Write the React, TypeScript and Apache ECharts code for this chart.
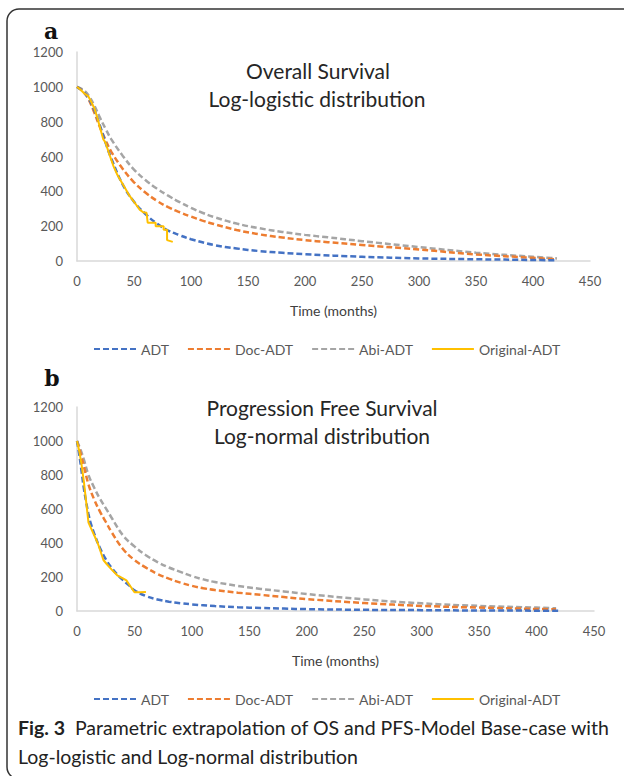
import React, { useEffect, useRef } from "react";
import * as echarts from "echarts";

// ---------- Data ----------
const seriesNames = ["ADT", "Doc-ADT", "Abi-ADT", "Original-ADT"];
const xTicks = [0, 50, 100, 150, 200, 250, 300, 350, 400, 450];
const yTicks = [0, 200, 400, 600, 800, 1000, 1200];

// Panel a: Overall Survival, log-logistic
const osAdt: [number, number][] = [
  [0, 1000], [5, 975], [10, 935], [15, 870], [20, 780], [25, 680], [30, 590], [40, 440],
  [50, 340], [60, 270], [70, 215], [80, 175], [90, 148], [100, 125], [120, 92], [140, 72],
  [160, 57], [180, 47], [200, 39], [250, 24], [300, 15], [350, 10], [400, 6], [421, 4],
];
const osDoc: [number, number][] = [
  [0, 1000], [5, 975], [10, 930], [15, 855], [20, 770], [25, 695], [30, 628], [40, 530],
  [50, 452], [60, 393], [70, 346], [80, 309], [90, 280], [100, 255], [110, 232], [120, 212],
  [140, 178], [160, 153], [180, 135], [200, 120], [220, 108], [250, 92], [300, 66], [350, 38],
  [400, 18], [421, 9],
];
const osAbi: [number, number][] = [
  [0, 1000], [5, 985], [10, 952], [15, 895], [20, 825], [25, 760], [30, 700], [40, 605],
  [50, 525], [60, 465], [70, 416], [80, 375], [90, 338], [100, 305], [110, 277], [120, 253],
  [140, 215], [160, 188], [180, 167], [200, 150], [220, 136], [250, 114], [300, 80], [350, 48],
  [400, 24], [421, 15],
];
const osOriginal: [number, number][] = [
  [0, 1000], [3, 985], [6, 965], [10, 945], [12, 920], [15, 880], [18, 820], [20, 770],
  [23, 700], [25, 680], [28, 620], [32, 545], [35, 500], [38, 465], [42, 420], [46, 375],
  [50, 340], [55, 295], [58, 280], [61, 277], [62, 220], [69, 220], [69, 200], [76, 200],
  [76, 180], [79, 180], [79, 120], [84, 110],
];

// Panel b: Progression Free Survival, log-normal
const pfsAdt: [number, number][] = [
  [0, 1000], [2, 920], [4, 820], [6, 720], [8, 640], [10, 570], [12, 515], [15, 455],
  [20, 370], [25, 305], [30, 255], [35, 215], [40, 182], [45, 152], [50, 122], [60, 88],
  [70, 68], [80, 55], [90, 46], [100, 39], [120, 29], [140, 22], [160, 18], [180, 14],
  [200, 11], [250, 7], [300, 5], [350, 3], [400, 2], [420, 1],
];
const pfsDoc: [number, number][] = [
  [0, 1000], [3, 930], [6, 850], [10, 745], [15, 655], [20, 585], [25, 525], [30, 465],
  [40, 365], [50, 300], [60, 255], [70, 218], [80, 190], [90, 167], [100, 148], [110, 134],
  [120, 123], [140, 108], [160, 95], [180, 82], [200, 70], [250, 47], [300, 30], [350, 20],
  [400, 12], [417, 10],
];
const pfsAbi: [number, number][] = [
  [0, 1000], [3, 950], [6, 890], [10, 800], [15, 725], [20, 660], [25, 605], [30, 550],
  [40, 445], [50, 380], [60, 328], [70, 288], [80, 256], [90, 230], [100, 205], [110, 186],
  [120, 170], [140, 148], [160, 130], [180, 115], [200, 100], [250, 68], [300, 45], [350, 30],
  [400, 20], [417, 16],
];
const pfsOriginal: [number, number][] = [
  [0, 1000], [2, 940], [4, 860], [6, 760], [8, 640], [10, 520], [14, 460], [18, 400],
  [20, 360], [23, 300], [26, 275], [30, 245], [35, 210], [40, 192], [43, 180], [46, 150],
  [50, 110], [55, 110], [60, 112],
];

const colors = ["#4472C4", "#ED7D31", "#A5A5A5", "#FFC000"];
const FONT = "Lato, 'Open Sans', sans-serif";

export default function App() {
  const ref = useRef<HTMLDivElement>(null);

  useEffect(() => {
    document.body.style.margin = "0";
    if (!ref.current) return;
    const chart = echarts.init(ref.current, undefined, { renderer: "svg" });

    const makeX = (gridIndex: number) => ({
      type: "value" as const,
      gridIndex,
      min: xTicks[0],
      max: xTicks[xTicks.length - 1],
      interval: 50,
      name: "Time (months)",
      nameLocation: "middle" as const,
      nameGap: 42,
      nameTextStyle: { fontFamily: FONT, fontSize: 14, color: "#404040" },
      axisLine: { show: true, lineStyle: { color: "#D9D9D9", width: 1.5 } },
      axisTick: { show: false },
      splitLine: { show: false },
      axisLabel: { fontFamily: FONT, fontSize: 13, color: "#595959", margin: 13, formatter: (v: number) => String(v) },
    });
    const makeY = (gridIndex: number) => ({
      type: "value" as const,
      gridIndex,
      min: yTicks[0],
      max: yTicks[yTicks.length - 1],
      interval: 200,
      axisLine: { show: true, lineStyle: { color: "#D9D9D9", width: 1.5 } },
      axisTick: { show: false },
      splitLine: { show: false },
      axisLabel: { fontFamily: FONT, fontSize: 13, color: "#595959", margin: 14, formatter: (v: number) => String(v) },
    });

    const dashed = (name: string, idx: number, grid: number, data: [number, number][]) => ({
      name,
      type: "line" as const,
      xAxisIndex: grid,
      yAxisIndex: grid,
      data,
      showSymbol: false,
      symbol: "none",
      smooth: 0.4,
      color: colors[idx],
      lineStyle: { color: colors[idx], width: 2.5, type: [6, 3] as number[] },
      z: 2 + (2 - idx),
    });
    const solid = (grid: number, data: [number, number][]) => ({
      name: "Original-ADT",
      type: "line" as const,
      xAxisIndex: grid,
      yAxisIndex: grid,
      data,
      showSymbol: false,
      symbol: "none",
      color: colors[3],
      lineStyle: { color: colors[3], width: 2 },
      z: 10,
    });

    const legendBase = {
      data: seriesNames,
      left: 93,
      padding: 0,
      itemWidth: 42,
      itemHeight: 14,
      itemGap: 18,
      itemStyle: { opacity: 0 },
      textStyle: { fontFamily: FONT, fontSize: 14, color: "#595959" },
      selectedMode: false as const,
    };

    const txt = (text: string, x: number, y: number, extra: any = {}) => ({
      type: "text" as const,
      x,
      y,
      silent: true,
      style: {
        text,
        fill: "#262626",
        fontFamily: FONT,
        fontSize: 21,
        textAlign: "center",
        textVerticalAlign: "middle",
        ...extra,
      },
    });

    chart.setOption({
      animation: false,
      backgroundColor: "#ffffff",
      grid: [
        { left: 77, top: 52, width: 513, height: 209 },
        { left: 77, top: 407, width: 517, height: 204 },
      ],
      xAxis: [makeX(0), makeX(1)],
      yAxis: [makeY(0), makeY(1)],
      legend: [
        { ...legendBase, top: 342 },
        { ...legendBase, top: 692 },
      ],
      series: [
        dashed("ADT", 0, 0, osAdt),
        dashed("Doc-ADT", 1, 0, osDoc),
        dashed("Abi-ADT", 2, 0, osAbi),
        solid(0, osOriginal),
        dashed("ADT", 0, 1, pfsAdt),
        dashed("Doc-ADT", 1, 1, pfsDoc),
        dashed("Abi-ADT", 2, 1, pfsAbi),
        solid(1, pfsOriginal),
      ],
      graphic: [
        {
          type: "rect",
          silent: true,
          shape: { x: 7, y: 9, width: 700, height: 770, r: 12 },
          style: { fill: "none", stroke: "#333333", lineWidth: 1.5 },
          z: -1,
        },
        txt("a", 51, 31, { fontFamily: "'DejaVu Serif', 'Liberation Serif', serif", fontWeight: "bold", fontSize: 22, fill: "#111" }),
        txt("b", 52, 378, { fontFamily: "'DejaVu Serif', 'Liberation Serif', serif", fontWeight: "bold", fontSize: 22, fill: "#111" }),
        txt("Overall Survival", 318, 70),
        txt("Log-logistic distribution", 317, 98),
        txt("Progression Free Survival", 322, 407),
        txt("Log-normal distribution", 322, 435),
        {
          type: "text",
          x: 18,
          y: 727,
          silent: true,
          style: {
            text: "{b|Fig. 3}  Parametric extrapolation of OS and PFS-Model Base-case with",
            fill: "#222",
            fontFamily: FONT,
            fontSize: 19.5,
            textAlign: "left",
            textVerticalAlign: "middle",
            rich: { b: { fontWeight: "bold", fontFamily: FONT, fontSize: 19.5, fill: "#222" } },
          },
        },
        {
          type: "text",
          x: 18,
          y: 756,
          silent: true,
          style: {
            text: "Log-logistic and Log-normal distribution",
            fill: "#222",
            fontFamily: FONT,
            fontSize: 19.5,
            textAlign: "left",
            textVerticalAlign: "middle",
          },
        },
      ],
    });

    return () => chart.dispose();
  }, []);

  return <div ref={ref} style={{ width: 624, height: 776 }} />;
}
